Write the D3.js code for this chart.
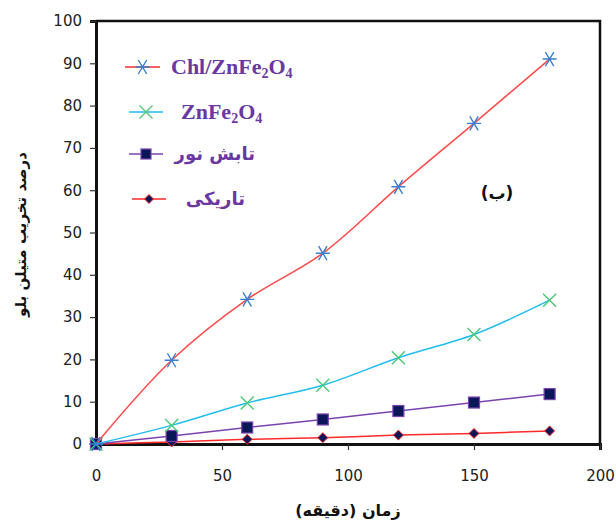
<!DOCTYPE html>
<html>
<head>
<meta charset="utf-8">
<script src="https://cdn.jsdelivr.net/npm/d3@7"></script>
<style>
  html, body { margin: 0; padding: 0; background: #fff; }
  svg { display: block; }
</style>
</head>
<body>
<svg id="chart" width="616" height="523"></svg>
<script>
// Degradation of methylene blue over time (minutes)
const times = [0, 30, 60, 90, 120, 150, 180];
const chlZnFe = [0, 19.8, 34.2, 45.1, 60.8, 75.8, 91.0];
const znFe = [0, 4.4, 9.7, 13.9, 20.4, 25.9, 34.0];
const lightOnly = [0, 1.9, 3.9, 5.8, 7.8, 9.8, 11.8];
const darkOnly = [0, 0.5, 1.1, 1.5, 2.1, 2.5, 3.1];
const xTicks = [0, 50, 100, 150, 200];
const yTicks = [0, 10, 20, 30, 40, 50, 60, 70, 80, 90, 100];

const svg = d3.select("#chart");
const m = { left: 96, right: 600, top: 21, bottom: 444 };

const x = d3.scaleLinear().domain([0, 200]).range([m.left, m.right]);
const y = d3.scaleLinear().domain([0, 100]).range([m.bottom, m.top]);

// frame (top and right edges)
svg.append("path")
  .attr("d", `M${m.left},${m.top}H${m.right}V${m.bottom}`)
  .attr("fill", "none").attr("stroke", "#111").attr("stroke-width", 2.5);

// axes
const tickFont = "'DejaVu Sans', Verdana, sans-serif";
const yAxis = svg.append("g").attr("transform", `translate(${m.left},0)`)
  .call(d3.axisLeft(y).tickValues(yTicks).tickSize(6).tickPadding(8));
const xAxis = svg.append("g").attr("transform", `translate(0,${m.bottom})`)
  .call(d3.axisBottom(x).tickValues(xTicks).tickSize(6).tickPadding(20));
[yAxis, xAxis].forEach(g => {
  g.select(".domain").attr("stroke", "#111").attr("stroke-width", 3);
  g.selectAll(".tick line").attr("stroke", "#333").attr("stroke-width", 1.2);
  g.selectAll(".tick text").attr("fill", "#222")
    .style("font-family", tickFont).style("font-size", "15px");
});

// series
const series = [
  { name: "dark", values: darkOnly, line: "#ff2a2a", marker: "diamond" },
  { name: "light", values: lightOnly, line: "#7a44b0", marker: "square" },
  { name: "znfe", values: znFe, line: "#22bdf0", marker: "cross" },
  { name: "chl", values: chlZnFe, line: "#ff4a4a", marker: "star" }
];

const lineGen = d3.line()
  .x(d => x(d[0])).y(d => y(d[1]))
  .curve(d3.curveCatmullRom.alpha(0.5));

function drawMarker(g, type, cx, cy, s) {
  if (type === "star") {
    const r = 7;
    g.append("path")
      .attr("d", `M${cx - r},${cy}H${cx + r}M${cx - r * 0.6},${cy - r}L${cx + r * 0.6},${cy + r}M${cx + r * 0.6},${cy - r}L${cx - r * 0.6},${cy + r}`)
      .attr("stroke", "#3a7fd0").attr("stroke-width", 1.4).attr("fill", "none");
  } else if (type === "cross") {
    const r = 6.5;
    g.append("path")
      .attr("d", `M${cx - r},${cy - r}L${cx + r},${cy + r}M${cx + r},${cy - r}L${cx - r},${cy + r}`)
      .attr("stroke", "#4cc878").attr("stroke-width", 1.4).attr("fill", "none");
  } else if (type === "square") {
    const r = s || 5.5;
    g.append("rect")
      .attr("x", cx - r).attr("y", cy - r).attr("width", 2 * r).attr("height", 2 * r)
      .attr("fill", "#0b1658").attr("stroke", "#7a44b0").attr("stroke-width", 1.2);
  } else if (type === "diamond") {
    const r = s || 5;
    g.append("path")
      .attr("d", `M${cx},${cy - r}L${cx + r},${cy}L${cx},${cy + r}L${cx - r},${cy}Z`)
      .attr("fill", "#0b1658").attr("stroke", "#ff2a2a").attr("stroke-width", 1);
  }
}

series.forEach(s => {
  const pts = times.map((t, i) => [t, s.values[i]]);
  svg.append("path").datum(pts)
    .attr("d", lineGen)
    .attr("fill", "none").attr("stroke", s.line).attr("stroke-width", 1.5);
  const g = svg.append("g");
  pts.forEach(p => drawMarker(g, s.marker, x(p[0]), y(p[1])));
});

// legend
const legendItems = [
  { label: "Chl/ZnFe", sub: true, line: "#ff2a2a", marker: "star", y: 67, x1: 125, x2: 160, tx: 171 },
  { label: "ZnFe", sub: true, line: "#22bdf0", marker: "cross", y: 112, x1: 129, x2: 163, tx: 181 },
  { label: "تابش نور", line: "#7a44b0", marker: "square", y: 154, x1: 129, x2: 163, tx: 255 },
  { label: "تاریکی", line: "#ff2a2a", marker: "diamond", y: 199, x1: 132, x2: 166, tx: 245 }
];
const legend = svg.append("g");
legendItems.forEach(it => {
  legend.append("line")
    .attr("x1", it.x1).attr("x2", it.x2).attr("y1", it.y).attr("y2", it.y)
    .attr("stroke", it.line).attr("stroke-width", 1.6);
  drawMarker(legend, it.marker, (it.x1 + it.x2) / 2, it.y, it.marker === "square" ? 5 : 4.5);
  if (it.sub) {
    const t = legend.append("text")
      .attr("x", it.tx).attr("y", it.y + 7)
      .attr("fill", "#6a38a0")
      .style("font-family", "'Liberation Serif', 'Times New Roman', serif")
      .style("font-weight", "bold").style("font-size", "22px");
    t.append("tspan").text(it.label);
    t.append("tspan").attr("dy", 4).style("font-size", "14px").text("2");
    t.append("tspan").attr("dy", -4).text("O");
    t.append("tspan").attr("dy", 4).style("font-size", "14px").text("4");
  } else {
    legend.append("text")
      .attr("x", it.tx).attr("y", it.y + 6)
      .attr("text-anchor", "end")
      .attr("fill", "#6a38a0")
      .style("font-family", "'DejaVu Sans', sans-serif")
      .style("font-weight", "bold").style("font-size", "18px")
      .text(it.label);
  }
});

// panel label
svg.append("text")
  .attr("x", 497).attr("y", 199)
  .attr("text-anchor", "middle")
  .attr("direction", "rtl")
  .attr("fill", "#111")
  .style("font-family", "'DejaVu Sans', sans-serif")
  .style("font-weight", "bold").style("font-size", "17px")
  .text("(ب)");

// axis titles
svg.append("text")
  .attr("x", (m.left + m.right) / 2).attr("y", 516)
  .attr("text-anchor", "middle")
  .attr("direction", "rtl")
  .attr("fill", "#111")
  .style("font-family", "'DejaVu Sans', sans-serif")
  .style("font-weight", "bold").style("font-size", "16px")
  .text("زمان (دقیقه)");

svg.append("text")
  .attr("transform", `translate(26,${(m.top + m.bottom) / 2 + 2}) rotate(-90)`)
  .attr("text-anchor", "middle")
  .attr("fill", "#111")
  .style("font-family", "'DejaVu Sans', sans-serif")
  .style("font-weight", "bold").style("font-size", "15px")
  .text("درصد تخریب متیلن بلو");
</script>
</body>
</html>
